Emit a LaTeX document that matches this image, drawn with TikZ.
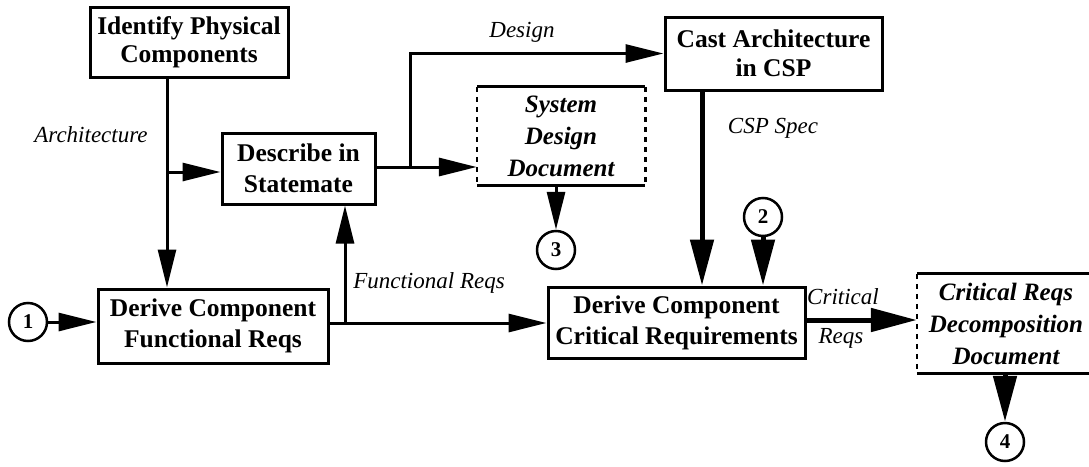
\documentclass[tikz,border=0pt]{standalone}
\usepackage{fontspec}
\setmainfont{Liberation Serif}
\usetikzlibrary{arrows.meta}
\begin{document}
\begin{tikzpicture}[x=1pt,y=-1pt,
  proc/.style={draw, line width=3pt, inner sep=0pt, align=center, font=\fontsize{25.5}{31}\selectfont\bfseries},
  docbox/.style={inner sep=0pt, align=center, font=\fontsize{25}{32}\selectfont\bfseries\itshape},
  docedge/.style={line width=3pt},
  docdash/.style={line width=2.6pt, dash pattern=on 5pt off 5pt},
  lbl/.style={inner sep=0pt, font=\fontsize{23}{26}\selectfont\itshape},
  conn/.style={draw, line width=2.5pt, inner sep=0pt, circle, minimum size=38pt, font=\fontsize{21}{22}\selectfont\bfseries},
  arr/.style={line width=3pt, -{Triangle[length=38pt,width=18pt]}},
  tarr/.style={line width=5pt, -{Triangle[length=46pt,width=23pt]}},
]
\useasboundingbox (0,0) rectangle (1089,466);

% process boxes
\node[proc, minimum width=198pt, minimum height=70pt, font=\fontsize{25.5}{28}\selectfont\bfseries] (ident) at (189,42) {Identify Physical\\Components};
\node[proc, minimum width=153pt, minimum height=71pt] (desc) at (298.5,168.5) {Describe in\\Statemate};
\node[proc, minimum width=217pt, minimum height=73pt, font=\fontsize{25.5}{29}\selectfont\bfseries] (cast) at (773.5,53.5) {Cast Architecture\\in CSP};
\node[proc, minimum width=230pt, minimum height=74pt] (dfunc) at (213,326) {Derive Component\\Functional Reqs};
\node[proc, minimum width=257pt, minimum height=71pt] (dcrit) at (676.5,322.5) {Derive Component\\Critical Requirements};

% document boxes
\node[docbox, minimum width=168pt, minimum height=98pt] (sysdoc) at (561,136) {System\\Design\\Document};
\draw[docedge] (sysdoc.north west) -- (sysdoc.north east) (sysdoc.south west) -- (sysdoc.south east);
\draw[docdash] (sysdoc.north west) -- (sysdoc.south west) (sysdoc.north east) -- (sysdoc.south east);

\node[inner sep=0pt, minimum width=184pt, minimum height=99pt] (crdoc) at (1009,323.5) {};
\node[docbox] (crdoctxt) at (1006,323.5) {Critical Reqs\\Decomposition\\Document};
\draw[docedge] (crdoc.north west) -- (crdoc.north east) (crdoc.south west) -- (crdoc.south east);
\draw[docdash] (crdoc.north west) -- (crdoc.south west) (crdoc.north east) -- (crdoc.south east);

% connectors (off-page)
\node[conn] (c1) at (28,322) {1};
\node[conn] (c2) at (763,217) {2};
\node[conn] (c3) at (556,250) {3};
\node[conn] (c4) at (1005,442) {4};

% labels
\node[lbl] (larch) at (91,135) {Architecture};
\node[lbl] (ldesign) at (522,32) {Design};
\node[lbl] (lcsp) at (773,128) {CSP Spec};
\node[lbl] (lfunc) at (429,283) {Functional Reqs};
\node[lbl] (lcrit) at (843,297) {Critical};
\node[lbl] (lreqs) at (841,338) {Reqs};

% junction coordinates
\coordinate (j1) at (167,172);
\coordinate (j2) at (410,167);
\coordinate (j3) at (702,100);
\coordinate (j4) at (345,323);

% arrows
\draw[arr] (ident.south -| j1) -- (dfunc.north -| j1);
\draw[arr] (j1) -- (j1 -| desc.west);
\draw[line width=3pt] (desc.east |- j2) -- (j2);
\draw[arr] (j2) -- (j2 -| sysdoc.west);
\draw[arr] (j2) |- (cast.west);
\draw[arr] (sysdoc.south -| c3) -- (c3.north);
\draw[tarr] (cast.south -| j3) -- (dcrit.north -| j3);
\draw[tarr] (c2.south) -- (dcrit.north -| c2);
\draw[arr] (c1.east) -- (c1 -| dfunc.west);
\draw[line width=3pt] (dfunc.east |- j4) -- (j4);
\draw[arr] (j4) -- (dcrit.west |- j4);
\draw[arr] (j4) -- (j4 |- desc.south);
\draw[tarr] (dcrit.east |- 0,320) -- (crdoc.west |- 0,320);
\draw[tarr] (crdoc.south -| c4) -- (c4.north);
\end{tikzpicture}
\end{document}
